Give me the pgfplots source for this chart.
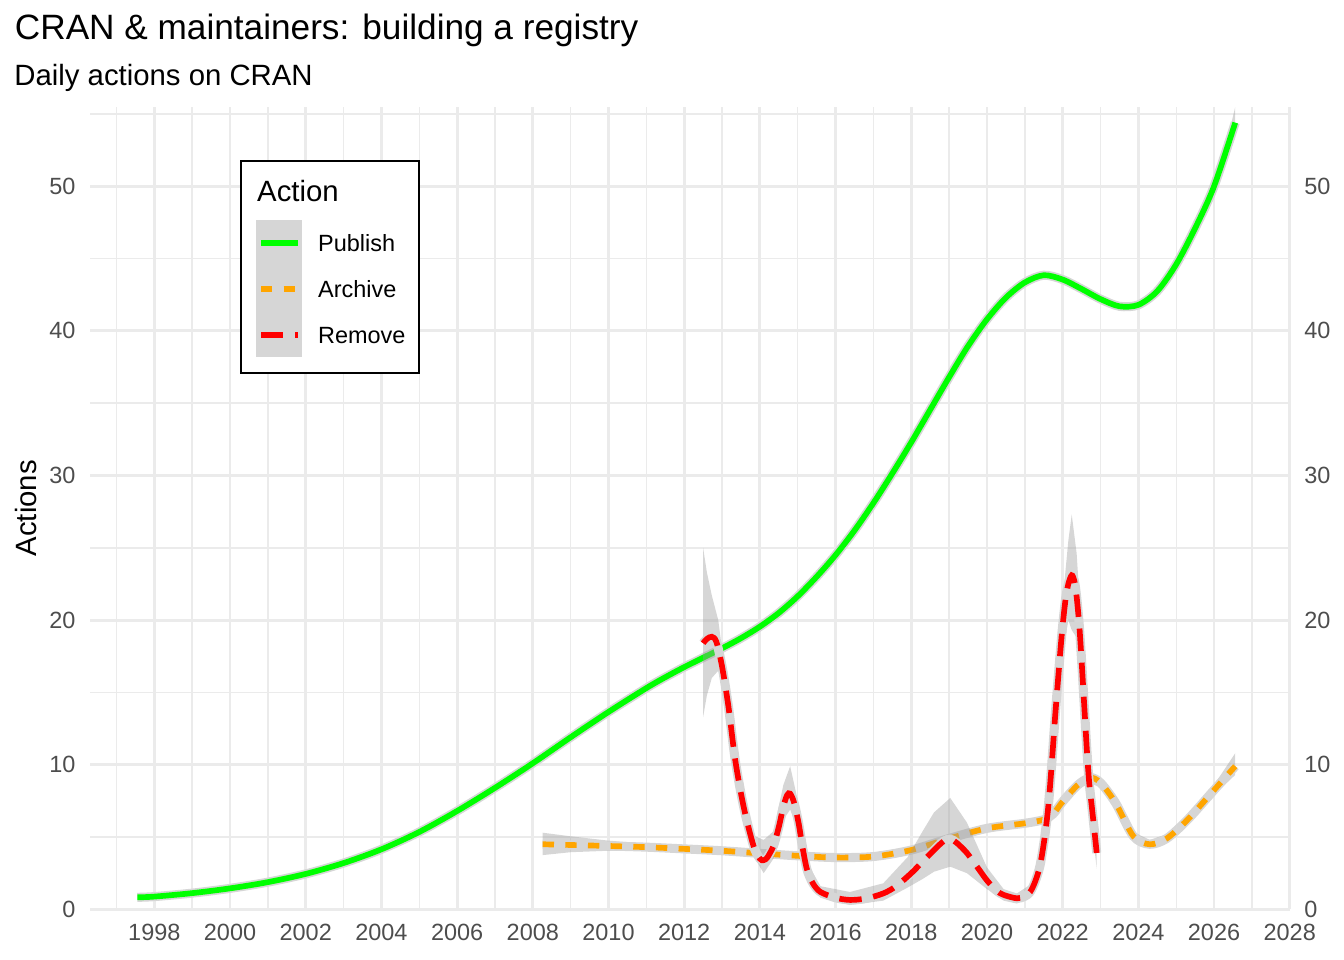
\documentclass[border=0pt]{standalone}
\usepackage{pgfplots}
\pgfplotsset{compat=1.18}
\usepackage{pgfplotstable}
\usepackage{fontspec}
\setmainfont{Liberation Sans}
\definecolor{gridc}{HTML}{EBEBEB}
\definecolor{tickc}{HTML}{4D4D4D}
\definecolor{band}{RGB}{153,153,153}
\definecolor{bandop}{HTML}{D6D6D6}
\definecolor{pubc}{HTML}{00FF00}
\definecolor{arcc}{HTML}{FFA500}
\definecolor{remc}{HTML}{FF0000}

\pgfplotstableread{
x y
1997.55 0.83
1998 0.88
1999 1.12
2000 1.45
2001 1.88
2002 2.45
2003 3.2
2004 4.15
2005 5.35
2006 6.8
2007 8.4
2008 10.1
2009 11.9
2010 13.65
2011 15.3
2011.5 16.05
2012 16.75
2012.5 17.4
2013 18.05
2013.5 18.75
2014 19.55
2014.5 20.5
2015 21.65
2015.5 23.0
2016 24.5
2016.5 26.2
2017 28.1
2017.5 30.15
2018 32.3
2018.5 34.55
2019 36.8
2019.5 38.95
2020 40.8
2020.5 42.3
2021 43.35
2021.5 43.85
2022 43.55
2022.5 42.9
2023 42.2
2023.5 41.7
2024 41.8
2024.5 42.75
2025 44.6
2025.5 47.1
2026 50.0
2026.56 54.4
}\pub

\pgfplotstableread{
x y
2008.26 4.5
2009 4.45
2010 4.38
2011 4.3
2012 4.18
2013 4.05
2014 3.87
2015 3.7
2016 3.58
2017 3.65
2018 4.1
2019 4.9
2020 5.6
2021 5.95
2021.5 6.2
2021.75 6.6
2022 7.45
2022.4 8.6
2022.73 9.1
2023 8.75
2023.4 7.35
2023.87 5.05
2024.3 4.5
2024.75 4.9
2025.3 6.2
2026 8.25
2026.56 9.9
}\arc

\pgfplotstableread{
x y
2012.50 18.4
2012.60 18.7
2012.73 18.85
2012.85 18.5
2013.00 16.8
2013.17 14.0
2013.35 10.3
2013.57 7.1
2013.83 4.4
2014.00 3.5
2014.10 3.4
2014.20 3.6
2014.36 4.4
2014.50 5.7
2014.62 7.1
2014.72 7.9
2014.80 8.0
2014.90 7.4
2015.02 6.0
2015.12 4.4
2015.24 2.8
2015.40 1.8
2015.60 1.2
2016.00 0.8
2016.38 0.65
2016.80 0.75
2017.26 1.1
2017.60 1.6
2018.00 2.5
2018.30 3.3
2018.60 4.1
2018.85 4.7
2019.03 4.85
2019.20 4.6
2019.47 3.9
2019.75 2.9
2020.00 2.0
2020.25 1.3
2020.44 1.0
2020.79 0.76
2021.00 0.9
2021.14 1.2
2021.27 1.9
2021.40 3.0
2021.52 4.9
2021.62 7.1
2021.71 10.0
2021.80 13.3
2021.90 16.6
2021.98 19.1
2022.07 21.3
2022.15 22.5
2022.24 23.1
2022.31 22.7
2022.37 21.6
2022.44 19.6
2022.50 17.2
2022.57 14.1
2022.64 11.0
2022.70 8.8
2022.77 7.1
2022.84 5.4
2022.90 3.9
}\rem

\begin{document}
\begin{tikzpicture}
\path[use as bounding box] (0,0) rectangle (504bp,360bp);
\begin{axis}[
  at={(33.75bp,19.0bp)}, anchor=south west, scale only axis,
  width=449.9bp, height=300.86bp,
  xmin=1996.3, xmax=2028, ymin=0, ymax=55.48,
  axis line style={draw=none}, tick style={draw=none},
  major tick length=0pt, minor tick length=0pt,
  xtick={1998,2000,2002,2004,2006,2008,2010,2012,2014,2016,2018,2020,2022,2024,2026,2028},
  xticklabels={1998,2000,2002,2004,2006,2008,2010,2012,2014,2016,2018,2020,2022,2024,2026,2028},
  minor xtick={1997,1999,2001,2003,2005,2007,2009,2011,2013,2015,2017,2019,2021,2023,2025,2027},
  ytick={0,10,20,30,40,50}, yticklabels={0,10,20,30,40,50},
  minor ytick={5,15,25,35,45,55},
  grid=both,
  major grid style={gridc, line width=1.07bp},
  minor grid style={gridc, line width=0.53bp},
  tick label style={font=\fontsize{8.8bp}{10bp}\selectfont, text=tickc, inner sep=0pt},
  xticklabel style={anchor=north, yshift=-5.5bp},
  yticklabel style={anchor=east, xshift=-5.25bp},
]
% Publish
\addplot[draw=none, fill=band, fill opacity=0.4] coordinates {
(2025.5,47.4) (2026.0,50.4) (2026.3,52.6) (2026.56,55.5)
(2026.56,53.4) (2026.3,51.5) (2026.0,49.6) (2025.5,46.8)};
\addplot[bandop, line width=3.4bp, smooth] table[x=x,y=y] {\pub};
\addplot[pubc, line width=2.13bp, smooth] table[x=x,y=y] {\pub};
% Archive
\addplot[draw=none, fill=band, fill opacity=0.4] coordinates {
(2008.26,5.3) (2009.0,5.05) (2010.0,4.75) (2011.0,4.55) (2012.0,4.4) (2013.0,4.25)
(2014.0,4.1) (2015.0,3.95) (2016.0,3.85) (2017.0,3.9) (2018.0,4.35) (2019.0,5.15)
(2020.0,5.85) (2021.0,6.2) (2021.5,6.45) (2022.0,7.75) (2022.4,8.9) (2022.73,9.45)
(2023.0,9.1) (2023.4,7.7) (2023.87,5.35) (2024.3,4.8) (2024.75,5.2) (2025.3,6.5)
(2026.0,8.6) (2026.56,10.8)
(2026.56,9.3) (2026.0,7.9) (2025.3,5.9) (2024.75,4.6) (2024.3,4.2) (2023.87,4.75)
(2023.4,7.0) (2023.0,8.4) (2022.73,8.75) (2022.4,8.3) (2022.0,7.15) (2021.5,5.95)
(2021.0,5.7) (2020.0,5.35) (2019.0,4.65) (2018.0,3.85) (2017.0,3.4) (2016.0,3.35)
(2015.0,3.45) (2014.0,3.65) (2013.0,3.85) (2012.0,3.95) (2011.0,4.05) (2010.0,4.05)
(2009.0,3.95) (2008.26,3.75)};
\addplot[bandop, line width=3.4bp, smooth] table[x=x,y=y] {\arc};
\addplot[arcc, line width=2.13bp, smooth, dash pattern=on 4.25bp off 4.25bp] table[x=x,y=y] {\arc};
% Remove
\addplot[draw=none, fill=band, fill opacity=0.4] coordinates {
(2012.50,25.0) (2012.60,23.3) (2012.73,21.7) (2012.90,20.0) (2013.00,18.0) (2013.17,14.8)
(2013.35,11.0) (2013.57,7.8) (2013.83,5.1) (2014.10,4.8) (2014.36,5.4) (2014.62,8.6)
(2014.80,9.9) (2015.02,7.3) (2015.24,3.3) (2015.60,1.6) (2016.38,1.2) (2017.26,1.8)
(2017.90,3.6) (2018.30,5.4) (2018.60,6.7) (2019.03,7.7) (2019.47,6.0) (2020.00,2.9)
(2020.44,1.4) (2020.79,1.1) (2021.14,1.7) (2021.40,3.5) (2021.62,7.8) (2021.80,14.4)
(2021.98,20.8) (2022.15,25.5) (2022.24,27.3) (2022.37,24.6) (2022.50,19.2) (2022.64,12.2)
(2022.77,8.4) (2022.90,5.0)
(2022.90,2.8) (2022.77,5.8) (2022.64,9.8) (2022.50,15.3) (2022.37,18.8) (2022.24,19.3)
(2022.15,20.0) (2021.98,17.5) (2021.80,12.2) (2021.62,6.4) (2021.40,2.5) (2021.14,0.8)
(2020.79,0.4) (2020.44,0.6) (2020.00,1.4) (2019.47,2.5) (2019.03,2.95) (2018.60,2.6)
(2018.30,2.1) (2017.90,1.5) (2017.26,0.6) (2016.38,0.3) (2015.60,0.8) (2015.24,2.2)
(2015.02,5.4) (2014.80,6.9) (2014.62,6.2) (2014.36,3.5) (2014.10,2.5) (2013.83,3.7)
(2013.57,6.4) (2013.35,9.6) (2013.17,13.2) (2013.00,15.8) (2012.90,16.5) (2012.73,16.0)
(2012.60,14.8) (2012.50,13.3)};
\addplot[bandop, line width=3.4bp, smooth] table[x=x,y=y] {\rem};
\addplot[remc, line width=2.13bp, smooth, dash pattern=on 8.4bp off 4.4bp] table[x=x,y=y] {\rem};
\end{axis}
% right-hand tick labels
\begin{axis}[
  at={(33.75bp,19.0bp)}, anchor=south west, scale only axis,
  width=449.9bp, height=300.86bp,
  xmin=1996.3, xmax=2028, ymin=0, ymax=55.48,
  axis line style={draw=none}, tick style={draw=none},
  major tick length=0pt, xtick=\empty,
  ytick={0,10,20,30,40,50}, yticklabels={0,10,20,30,40,50},
  yticklabel pos=right,
  tick label style={font=\fontsize{8.8bp}{10bp}\selectfont, text=tickc, inner sep=0pt},
  yticklabel style={anchor=west, xshift=5.25bp},
]
\end{axis}
% titles
\node[anchor=base west, inner sep=0pt, font=\fontsize{13.2bp}{16bp}\selectfont] at (5.4bp,345bp) {CRAN \& maintainers: building a registry};
\node[anchor=base west, inner sep=0pt, font=\fontsize{11bp}{13bp}\selectfont] at (5.2bp,328.1bp) {Daily actions on CRAN};
\node[anchor=base, inner sep=0pt, rotate=90, font=\fontsize{11bp}{13bp}\selectfont] at (13.5bp,169.4bp) {Actions};
% legend
\draw[black, line width=0.8bp, fill=white] (90.375bp,220.2bp) rectangle (157.0bp,299.6bp);
\node[anchor=base west, inner sep=0pt, font=\fontsize{11bp}{13bp}\selectfont] at (96.26bp,284.36bp) {Action};
\fill[bandop] (96.0bp,226.0bp) rectangle (113.25bp,277.5bp);
\draw[pubc, line width=2.13bp] (97.9bp,268.76bp) -- (111.6bp,268.76bp);
\draw[arcc, line width=2.13bp, dash pattern=on 4.25bp off 4.25bp] (97.9bp,251.5bp) -- (111.6bp,251.5bp);
\draw[remc, line width=2.13bp, dash pattern=on 8.4bp off 4.4bp] (97.9bp,234.26bp) -- (111.6bp,234.26bp);
\node[anchor=base west, inner sep=0pt, font=\fontsize{8.8bp}{10bp}\selectfont] at (119.1bp,265.6bp) {Publish};
\node[anchor=base west, inner sep=0pt, font=\fontsize{8.8bp}{10bp}\selectfont] at (119.1bp,248.35bp) {Archive};
\node[anchor=base west, inner sep=0pt, font=\fontsize{8.8bp}{10bp}\selectfont] at (119.1bp,231.1bp) {Remove};
\end{tikzpicture}
\end{document}
